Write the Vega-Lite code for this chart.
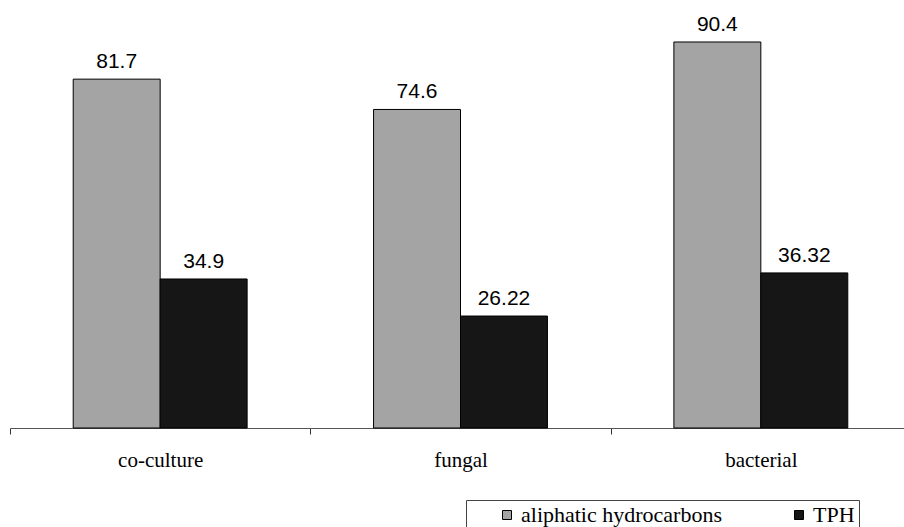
{
  "$schema": "https://vega.github.io/schema/vega-lite/v6.json",
  "width": 901,
  "height": 427,
  "autosize": "none",
  "padding": {"left": 10, "top": 1, "right": 0, "bottom": 99},
  "background": "white",
  "data": {"values": [
    {"group": "co-culture", "series": "aliphatic hydrocarbons", "value": 81.7, "label": "81.7"},
    {"group": "co-culture", "series": "TPH", "value": 34.9, "label": "34.9"},
    {"group": "fungal", "series": "aliphatic hydrocarbons", "value": 74.6, "label": "74.6"},
    {"group": "fungal", "series": "TPH", "value": 26.22, "label": "26.22"},
    {"group": "bacterial", "series": "aliphatic hydrocarbons", "value": 90.4, "label": "90.4"},
    {"group": "bacterial", "series": "TPH", "value": 36.32, "label": "36.32"}
  ]},
  "encoding": {
    "x": {"field": "group", "type": "nominal", "sort": ["co-culture", "fungal", "bacterial"],
      "scale": {"paddingInner": 0, "paddingOuter": 0},
      "axis": {"title": null, "labelAngle": 0, "labelFont": "Liberation Serif", "labelFontSize": 21, "labelColor": "black",
        "labelPadding": 15, "tickBand": "extent", "tickSize": 6, "tickColor": "#333", "domainColor": "#555", "grid": false}},
    "xOffset": {"field": "series", "type": "nominal", "sort": ["aliphatic hydrocarbons", "TPH"],
      "scale": {"paddingInner": 0, "paddingOuter": 0.727}},
    "y": {"field": "value", "type": "quantitative", "scale": {"domain": [0, 100]}, "axis": null}
  },
  "layer": [
    {
      "mark": {"type": "bar", "stroke": "black", "strokeWidth": 1},
      "encoding": {
        "color": {"field": "series", "type": "nominal", "sort": ["aliphatic hydrocarbons", "TPH"],
          "scale": {"domain": ["aliphatic hydrocarbons", "TPH"], "range": ["#a4a4a4", "#161616"]},
          "legend": {"title": null, "orient": "none", "legendX": 456, "legendY": 499, "direction": "horizontal",
            "strokeColor": "#444", "padding": 4, "symbolType": "square", "symbolSize": 81, "symbolOffset": 26, "symbolStrokeColor": "black", "symbolStrokeWidth": 1,
            "labelFont": "Liberation Serif", "labelFontSize": 22, "labelOffset": 3, "labelColor": "black", "columnPadding": 40, "labelLimit": 400}}
      }
    },
    {
      "mark": {"type": "text", "dy": -11, "baseline": "alphabetic", "font": "Liberation Sans", "fontSize": 21, "color": "black"},
      "encoding": {"text": {"field": "label"}}
    }
  ],
  "config": {"font": "Liberation Serif", "view": {"stroke": null}, "legend": {"labelFont": "Liberation Serif"}}
}
